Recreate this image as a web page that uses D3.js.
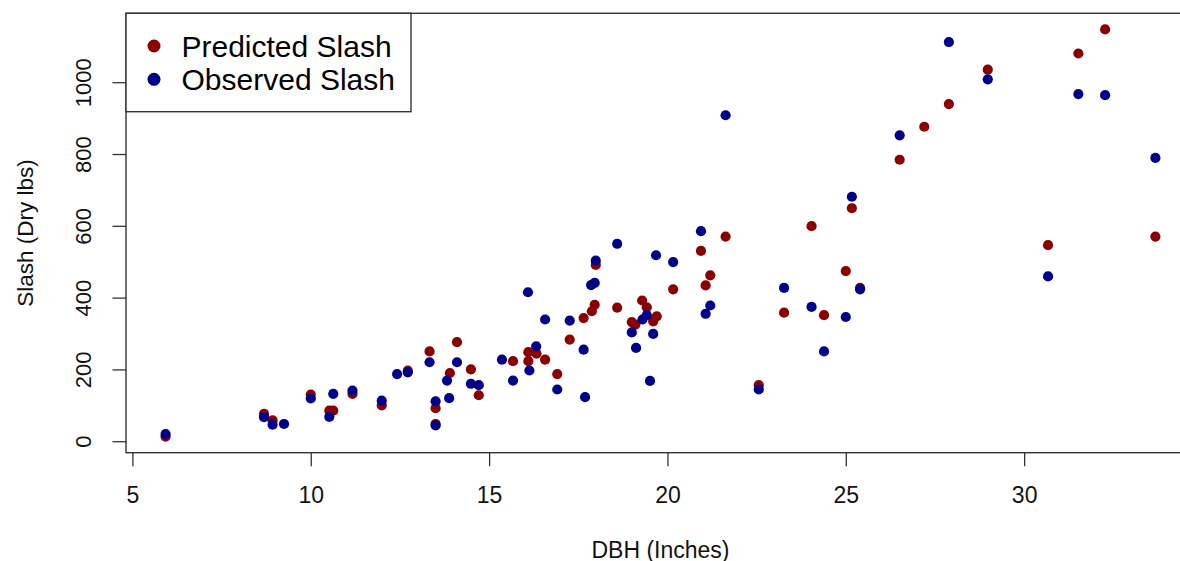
<!DOCTYPE html>
<html>
<head>
<meta charset="utf-8">
<script src="https://cdn.jsdelivr.net/npm/d3@7"></script>
<style>
  body { margin: 0; background: #fff; }
  svg { display: block; font-family: "Liberation Sans", Arial, sans-serif; }
</style>
</head>
<body>
<div id="chart"></div>
<script>
// données : DBH (pouces) et slash (lbs sec)
const predDbh = [5.93, 8.69, 8.93, 10.0, 10.52, 10.63, 11.17, 11.99, 12.72, 13.33, 13.5, 13.5, 13.9, 14.1, 14.49, 14.71,
  15.67, 16.1, 16.1, 16.33, 16.57, 16.91, 17.26, 17.65, 17.88, 17.96, 17.99, 18.59, 19.0, 19.1, 19.29, 19.42, 19.6, 19.7,
  20.16, 20.94, 21.07, 21.2, 21.63, 22.56, 23.27, 24.04, 24.39, 25.0, 25.17, 25.4, 26.51, 27.2, 27.89, 28.98, 30.67,
  31.52, 32.27, 33.68];
const predSlash = [13, 76, 58, 130, 85, 85, 132, 100, 197, 250, 92, 48, 190, 276, 200, 128,
  223, 248, 223, 244, 227, 187, 283, 343, 362, 380, 491, 372, 332, 325, 392, 373, 334, 348,
  423, 530, 434, 462, 570, 156, 358, 599, 351, 474, 649, 427, 784, 876, 939, 1035, 546,
  1080, 1147, 570];

const obsDbh = [5.93, 8.69, 8.93, 9.25, 10.0, 10.52, 10.63, 11.17, 11.99, 12.42, 12.72, 13.33, 13.5, 13.5, 13.82, 13.88,
  14.1, 14.49, 14.71, 15.36, 15.67, 16.09, 16.13, 16.32, 16.57, 16.91, 17.26, 17.65, 17.69, 17.86, 17.96, 17.99, 18.59,
  19.0, 19.12, 19.3, 19.42, 19.51, 19.6, 19.68, 20.16, 20.94, 21.07, 21.2, 21.63, 22.56, 23.27, 24.04, 24.39, 25.0,
  25.17, 25.4, 26.51, 27.89, 28.98, 30.67, 31.52, 32.27, 33.68];
const obsSlash = [20, 67, 46, 48, 119, 68, 132, 141, 113, 187, 192, 220, 111, 44, 169, 120,
  220, 160, 156, 227, 169, 415, 197, 264, 339, 144, 336, 255, 123, 435, 441, 503, 550,
  303, 260, 339, 351, 168, 299, 518, 499, 585, 355, 378, 908, 144, 427, 374, 250, 346,
  681, 423, 852, 1112, 1008, 459, 967, 964, 789];

const xTicks = [5, 10, 15, 20, 25, 30];
const yTicks = [0, 200, 400, 600, 800, 1000];
const seriesNames = ["Predicted Slash", "Observed Slash"];
const seriesColors = ["#8b0000", "#00008b"];

// canevas
const width = 1180, height = 561;
const plotLeft = 126, plotRight = 1195, plotTop = 13.3, plotBottom = 452.7;

const svg = d3.select("#chart")
  .append("svg")
  .attr("width", width)
  .attr("height", height);

// échelles (domaine étendu de 4% comme R)
const x = d3.scaleLinear().domain([4.82, 34.79]).range([plotLeft, plotRight]);
const y = d3.scaleLinear().domain([-32, 1192]).range([plotBottom, plotTop]);

// axe X
const gx = svg.append("g")
  .attr("transform", `translate(0,${plotBottom})`)
  .call(d3.axisBottom(x).tickValues(xTicks).tickSize(13.5).tickFormat(d3.format("d")));
gx.select(".domain").remove();
gx.selectAll(".tick line").attr("stroke", "#333").attr("stroke-width", 1.3);
gx.selectAll(".tick text")
  .attr("y", 50).attr("dy", 0)
  .attr("font-size", 23).attr("fill", "#111")
  .style("font-family", "'Liberation Sans', Arial, sans-serif");

// axe Y (étiquettes verticales)
const gy = svg.append("g")
  .attr("transform", `translate(${plotLeft},0)`)
  .call(d3.axisLeft(y).tickValues(yTicks).tickSize(13.5).tickFormat(d3.format("d")));
gy.select(".domain").remove();
gy.selectAll(".tick line").attr("stroke", "#333").attr("stroke-width", 1.3);
gy.selectAll(".tick text")
  .attr("transform", "rotate(-90)")
  .attr("x", 0).attr("y", -35.3).attr("dy", 0)
  .attr("text-anchor", "middle")
  .attr("font-size", 22).attr("fill", "#111")
  .style("font-family", "'Liberation Sans', Arial, sans-serif");

// titres des axes
svg.append("text")
  .attr("x", (plotLeft + plotRight) / 2)
  .attr("y", 557.5)
  .attr("text-anchor", "middle")
  .attr("font-size", 23)
  .attr("fill", "#111")
  .text("DBH (Inches)");

svg.append("text")
  .attr("transform", `translate(33,${(plotTop + plotBottom) / 2}) rotate(-90)`)
  .attr("text-anchor", "middle")
  .attr("font-size", 22.5)
  .attr("fill", "#111")
  .text("Slash (Dry lbs)");

// points : prédits puis observés (les bleus par-dessus)
svg.append("g")
  .selectAll("circle")
  .data(d3.zip(predDbh, predSlash))
  .enter()
  .append("circle")
  .attr("cx", d => x(d[0]))
  .attr("cy", d => y(d[1]))
  .attr("r", 5.1)
  .attr("fill", seriesColors[0]);

svg.append("g")
  .selectAll("circle")
  .data(d3.zip(obsDbh, obsSlash))
  .enter()
  .append("circle")
  .attr("cx", d => x(d[0]))
  .attr("cy", d => y(d[1]))
  .attr("r", 5.1)
  .attr("fill", seriesColors[1]);

// cadre du graphique
svg.append("rect")
  .attr("x", plotLeft)
  .attr("y", plotTop)
  .attr("width", plotRight - plotLeft)
  .attr("height", plotBottom - plotTop)
  .attr("fill", "none")
  .attr("stroke", "#333")
  .attr("stroke-width", 1.4);

// légende
const legend = svg.append("g");
legend.append("rect")
  .attr("x", plotLeft)
  .attr("y", plotTop)
  .attr("width", 411 - plotLeft)
  .attr("height", 111.7 - plotTop)
  .attr("fill", "#fff")
  .attr("stroke", "#333")
  .attr("stroke-width", 1.4);

const items = legend.selectAll(".item")
  .data(seriesNames)
  .enter()
  .append("g")
  .attr("transform", (d, i) => `translate(0,${46 + i * 33.3})`);

items.append("circle")
  .attr("cx", 154)
  .attr("cy", 0)
  .attr("r", 6.5)
  .attr("fill", (d, i) => seriesColors[i]);

items.append("text")
  .attr("x", 181.5)
  .attr("y", 11)
  .attr("font-size", 30)
  .attr("fill", "#000")
  .text(d => d);
</script>
</body>
</html>
